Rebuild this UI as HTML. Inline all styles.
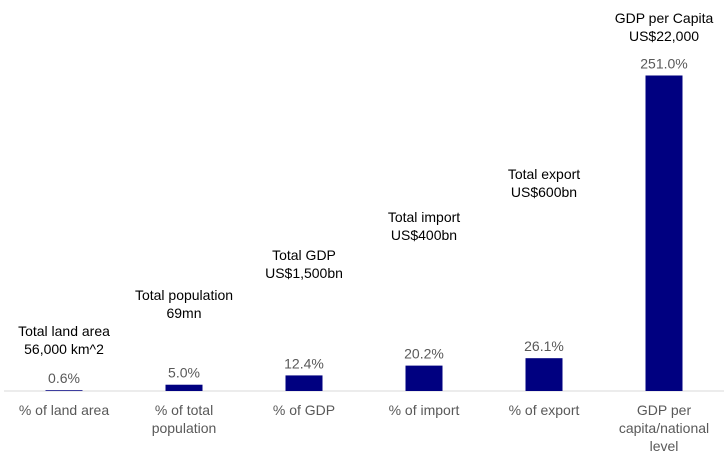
<!DOCTYPE html>
<html><head><meta charset="utf-8"><style>
body{margin:0;background:#fff;}
svg text{font-family:"Liberation Sans",Arial,sans-serif;}
</style></head><body>
<svg width="728" height="461" id="chart"></svg>
<script>
const categories=["% of land area","% of total|population","% of GDP","% of import","% of export","GDP per|capita/national|level"];
const values=[0.6,5.0,12.4,20.2,26.1,251.0];
const valueLabels=["0.6%","5.0%","12.4%","20.2%","26.1%","251.0%"];
const annotations=["Total land area|56,000 km^2","Total population|69mn","Total GDP|US$1,500bn","Total import|US$400bn","Total export|US$600bn","GDP per Capita|US$22,000"];
const annotationBaselines=[336,300,260,222,179,23];
const NS="http://www.w3.org/2000/svg";
const svg=document.getElementById('chart');
const baseY=391, scale=1.257, x0=64, step=120, bw=37;
function xPos(i){return x0+i*step;}
function yPos(v){return baseY-v*scale;}
function mk(tag,attrs){const e=document.createElementNS(NS,tag);for(const k in attrs)e.setAttribute(k,attrs[k]);svg.appendChild(e);return e;}
const axis=mk('line',{x1:4,x2:724,y1:baseY,y2:baseY,stroke:'#d9d9d9','stroke-width':1});


values.forEach((v,i)=>{
  const cx=xPos(i), top=yPos(v);
  const r=mk('rect',{x:cx-bw/2,y:top,width:bw,height:baseY-top,fill:'#000080'});
  
  
  const t=mk('text',{x:cx,y:top-7,'text-anchor':'middle','font-size':14,fill:'#595959'});
  t.textContent=valueLabels[i];
  
  
  const ann=annotations[i].split('|');
  ann.forEach((line,j)=>{
    const a=mk('text',{x:cx,y:annotationBaselines[i]+j*18,'text-anchor':'middle','font-size':14,fill:'#000'});
    a.textContent=line;
    
    
  });
  categories[i].split('|').forEach((line,j)=>{
    const c=mk('text',{x:cx,y:415+j*18,'text-anchor':'middle','font-size':14,fill:'#595959'});
    c.textContent=line;
    
    
  });
});
</script>
</body></html>
